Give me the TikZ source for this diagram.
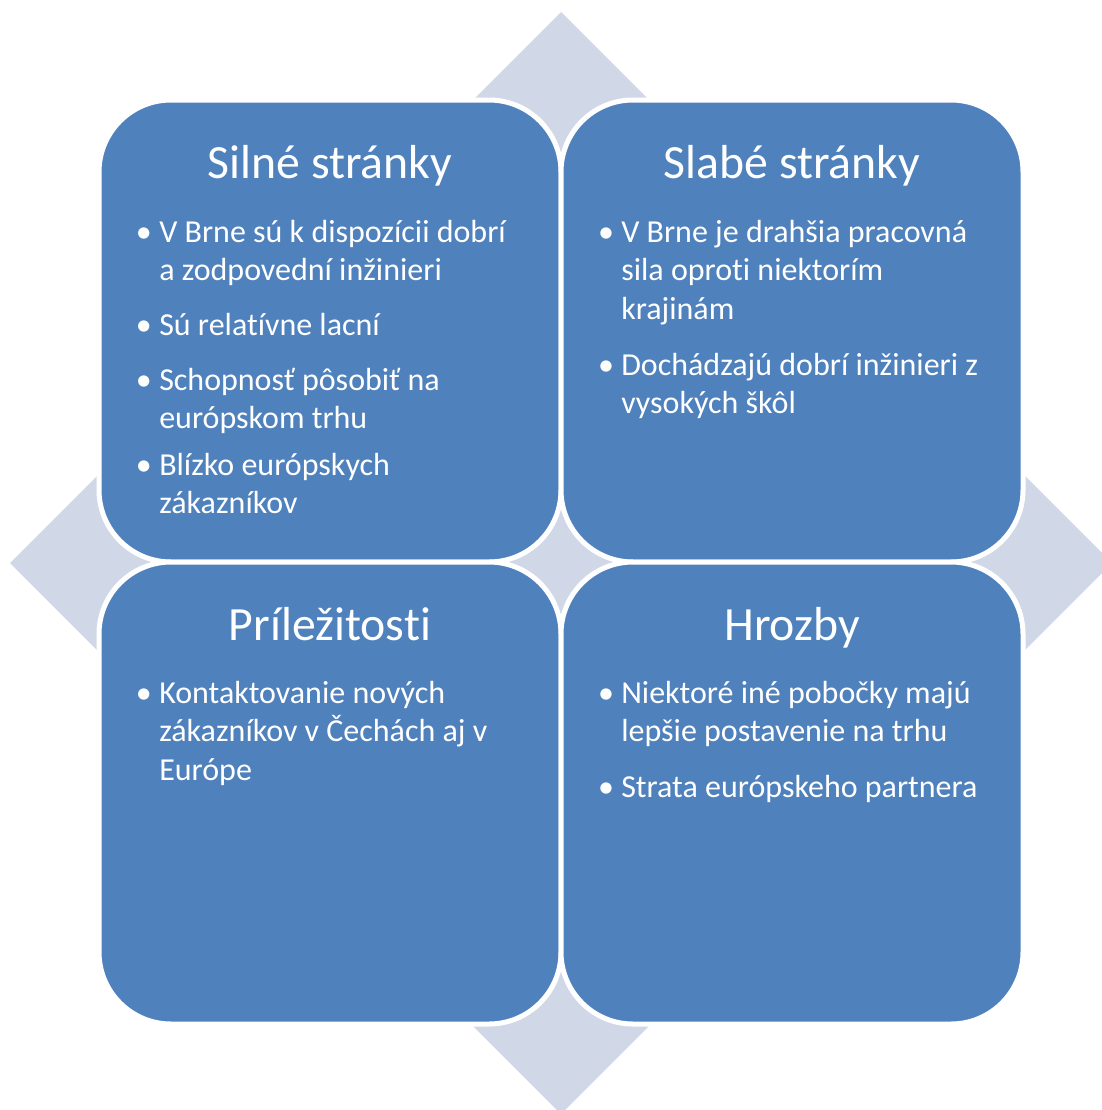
\documentclass[tikz,border=0pt]{standalone}
\usepackage{fontspec}
\setmainfont{Carlito}[Ligatures={NoCommon}]
\usetikzlibrary{positioning}
\definecolor{swotblue}{HTML}{4F81BD}
\definecolor{swotgrey}{HTML}{D0D8E8}
\tikzset{
  quad/.style={draw=white, line width=3.75pt, fill=swotblue, rounded corners=54pt,
    minimum width=346.5pt, minimum height=346.5pt, inner sep=0pt, outer sep=0pt},
  heading/.style={text=white, font=\fontsize{35.8}{42}\selectfont, anchor=base, inner sep=0pt},
  point/.style={text=white, font=\fontsize{24}{28.9}\selectfont,
    anchor=base west, inner sep=0pt},
}
\newcommand{\bul}{\llap{\textbullet\hspace{5.5pt}}}
\newcommand{\lines}[1]{\begin{tabular}[t]{@{}l@{}}#1\end{tabular}}

\begin{document}
\begin{tikzpicture}[x=0.75pt, y=-0.75pt]
    \useasboundingbox (0,0) rectangle (1101,1110);
    \fill [swotgrey] (561,12) -- (1112,563) -- (561,1114) -- (10,563) -- cycle; % diamond behind

    \node [quad] (tl) at (330,331) {};
    \node [quad] (tr) [right=0pt of tl] {};
    \node [quad] (bl) [below=0pt of tl] {};
    \node [quad] (br) [right=0pt of bl] {};

    \node [heading] (tl-title) at ([yshift=-58.9pt]tl.north) {Silné stránky};
    \node [heading] (tr-title) at ([yshift=-58.9pt]tr.north) {Slabé stránky};
    \node [heading] (bl-title) at ([yshift=-58.9pt]bl.north) {Príležitosti};
    \node [heading] (br-title) at ([yshift=-58.9pt]br.north) {Hrozby};

    \node [point] (tl-a) at ([xshift=45pt, yshift=-106.5pt]tl.north west) {\lines{\bul V Brne sú k dispozícii dobrí\\a zodpovední inžinieri}};
    \node [point] (tl-b) at ([xshift=45pt, yshift=-176.25pt]tl.north west) {\lines{\bul Sú relatívne lacní}};
    \node [point] (tl-c) at ([xshift=45pt, yshift=-217.5pt]tl.north west) {\lines{\bul Schopnosť pôsobiť na\\európskom trhu}};
    \node [point] (tl-d) at ([xshift=45pt, yshift=-281.25pt]tl.north west) {\lines{\bul Blízko európskych\\zákazníkov}};

    \node [point] (tr-a) at ([xshift=45pt, yshift=-106.5pt]tr.north west) {\lines{\bul V Brne je drahšia pracovná\\sila oproti niektorím\\krajinám}};
    \node [point] (tr-b) at ([xshift=45pt, yshift=-206.25pt]tr.north west) {\lines{\bul Dochádzajú dobrí inžinieri z\\vysokých škôl}};

    \node [point] (bl-a) at ([xshift=45pt, yshift=-105.75pt]bl.north west) {\lines{\bul Kontaktovanie nových\\zákazníkov v Čechách aj v\\Európe}};

    \node [point] (br-a) at ([xshift=45pt, yshift=-105.75pt]br.north west) {\lines{\bul Niektoré iné pobočky majú\\lepšie postavenie na trhu}};
    \node [point] (br-b) at ([xshift=45pt, yshift=-176.25pt]br.north west) {\lines{\bul Strata európskeho partnera}};
  \end{tikzpicture}
\end{document}
